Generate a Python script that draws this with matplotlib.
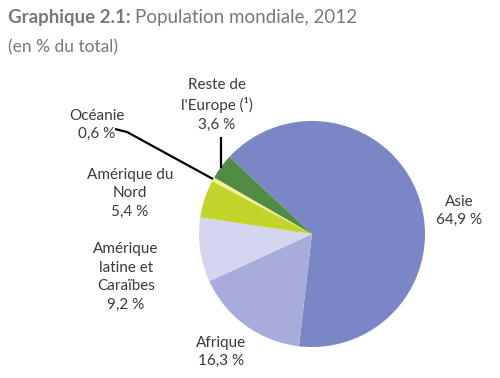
import numpy as np
import matplotlib
matplotlib.use("Agg")
import matplotlib.pyplot as plt

# Data
regions = ["Asie", "Afrique", "Amérique\nlatine et\nCaraïbes", "Amérique du\nNord", "Océanie", "Reste de\nl'Europe (\u00b9)"]
shares = [64.9, 16.3, 9.2, 5.4, 0.6, 3.6]
share_labels = ["64,9 %", "16,3 %", "9,2 %", "5,4 %", "0,6 %", "3,6 %"]
colors = ["#7a86c6", "#a7acdb", "#d4d6ef", "#c3d52c", "#f4ef8e", "#4f8b45"]

W, H = 500, 378
plt.rcParams['font.family'] = ['Lato', 'DejaVu Sans']
fig = plt.figure(figsize=(W / 100, H / 100), dpi=100)
ax = fig.add_axes([0, 0, 1, 1])

# pie, clockwise starting with Asie at upper left
cx, cy, r = 312, H - 234, 113
ax.pie(shares, colors=colors, startangle=137, counterclock=False,
       center=(cx, cy), radius=r, frame=True,
       wedgeprops=dict(linewidth=0))
ax.set_xlim(0, W)
ax.set_ylim(0, H)
ax.set_aspect('equal')
ax.axis('off')

txt = "#3a3a3a"
fs = 11
ls = 1.4
# label positions (pixel coords from top)
label_pos = [(459, 211), (221, 352), (126, 277), (130, 193), (97, 125), (217, 105)]
for name, lab, (x, y) in zip(regions, share_labels, label_pos):
    ax.text(x, H - y, name + "\n" + lab, ha='center', va='center', fontsize=fs,
            color=txt, linespacing=ls)

# leader lines
ax.plot([115, 127, 213], [H - 129, H - 132, H - 179], color='black', lw=1.6,
        solid_capstyle='butt')
ax.plot([220.5, 220.5], [H - 137, H - 168], color='black', lw=1.6,
        solid_capstyle='butt')

# title
t1 = fig.text(8 / W, 1 - 18 / H, "Graphique 2.1:", fontsize=13.5, fontweight='bold',
              color="#787878", va='center', ha='left')
fig.canvas.draw()
bb = t1.get_window_extent(renderer=fig.canvas.get_renderer())
fig.text((bb.x1 + 4) / W, 1 - 18 / H, "Population mondiale, 2012", fontsize=13.5,
         color="#787878", va='center', ha='left')
fig.text(8 / W, 1 - 47 / H, "(en % du total)", fontsize=12.5, color="#787878",
         va='center', ha='left')

fig.savefig("out.png", dpi=100)
